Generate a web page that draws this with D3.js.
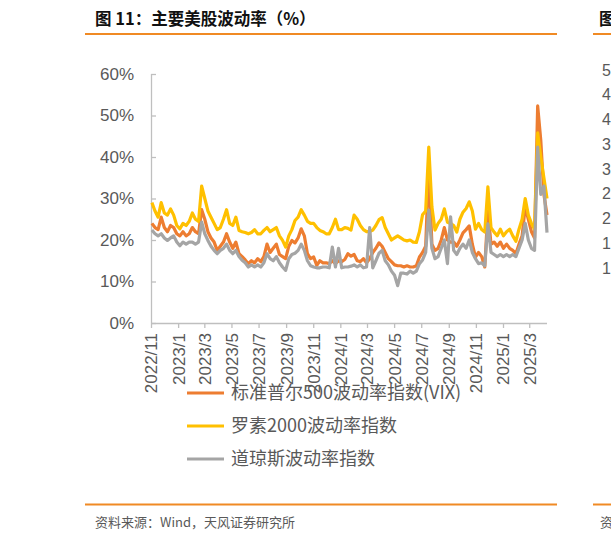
<!DOCTYPE html>
<html><head><meta charset="utf-8">
<script src="https://cdn.jsdelivr.net/npm/d3@7"></script>
<style>
html,body{margin:0;padding:0;background:#fff;}
svg{display:block;}
</style></head>
<body>
<svg id="c" width="611" height="540"></svg>
<script>
// ---- data ----
const title = "图 11：主要美股波动率（%）";
const source = "资料来源：Wind，天风证券研究所";
const seriesNames = ["标准普尔500波动率指数(VIX)", "罗素2000波动率指数", "道琼斯波动率指数"];
const firstWeek = "2022-11-18"; // weekly observations (Fridays)
const axisStart = "2022-11-16", axisEnd = "2025-04-25";
const tickLabels = ["2022/11","2023/1","2023/3","2023/5","2023/7","2023/9","2023/11","2024/1","2024/3","2024/5","2024/7","2024/9","2024/11","2025/1","2025/3"];
const yTicks = [0,10,20,30,40,50,60];

const vix = [24,23,22.5,25.5,23,22,23.5,23,21.5,21,22,21,21.5,23,22,21.5,27.3,25,22,20.5,
19.5,17.5,18.5,19.5,21.5,19.5,18,19.5,16.7,16,15.2,14.3,15,14.5,15.5,14.8,16,19,17,18,
19,16.5,16,15.5,18.5,19.9,19.3,20.5,22.7,21,16.7,15.5,15.9,13.9,15,14.5,14.5,14.3,15,14.3,
15,14.8,15.3,16.7,16.1,16.5,15,14.8,15.5,14.5,15.5,17,18,19.3,18.5,17,15.5,14.8,14,13.8,
13.8,13.5,13.8,13.5,13.5,13.8,15.9,17,18.5,38,19,17.5,18,20,23,20,19.5,19.5,18.5,20,
21.7,22.5,23.4,19,15.9,17,16,13.5,27,19,19.5,18.5,19.5,18,19,18,17.5,16.7,19,21,
28,25,22,20.5,52.3,44,31,26];
const rvx = [29,27,25.5,29,26.5,26,27.5,26,23.5,22.7,24,23.5,24.5,26.5,25,24.5,33,30,27,25.5,
24,22.5,23,25,27.3,24,23.5,25.5,22.3,22,21.8,21.5,21.8,22.5,21.5,21.5,22.3,23,22,22.5,
23,21,19.9,18.3,21,22.5,24.7,25.5,27.3,26,24.5,24,24,23,22.3,22,21.5,21.5,23,25,
22.5,22.5,23,22.8,22.4,26,25,23.5,22.5,22,22,22.4,23.5,24.9,25.4,23,21.5,20,20.5,21,
20.5,20,19.8,20,19.5,19.4,22,26.1,27,42.4,28,22.4,24,25,27.5,24.3,24,23.5,21.9,25,
26.7,27.6,29.2,27,22.6,24,22.5,21.9,32.8,23,21.9,21,22.6,21,22,22.6,21,19.7,22.6,25,
30,26,24,22.6,45.8,40,35,30];
const vxd = [22.4,21.5,21,21.5,20.5,19.9,20.5,21,19.5,18.6,19.5,19,19.5,19.5,19,19.5,24.3,21.5,19.9,18.5,
17.5,16.7,17.5,18,19,17.5,16.7,17.5,16,15.1,14.5,13.5,14,13.5,14,13.5,14.5,16.7,15.5,15,
16,14.5,13.5,12.7,15.5,16.5,16.8,17.5,19,17.5,15,13.8,13.5,13.3,13.3,13.5,13.5,13.3,18.3,13.5,
18,13.3,13.5,13.5,13.7,14,13.5,14,13.3,13.5,23,13.3,15,16.8,17.5,15,14,12.5,11.5,9,
12,12,11.8,12.5,12,12.5,14.3,15.2,17,27.2,18,15.5,16,18,20,14.3,25.6,17.5,16.5,18,
19,18,20,17,15.5,14.3,14.5,13.8,23.9,17,16.5,16,16.5,16,16.5,16,16.5,16,18,20,
24,20,18,17.5,42.4,31,33,21.8];

// neighbouring (clipped) chart at the right edge
const rightTicks = [50,45,40,35,30,25,20,15,10];

// ---- drawing ----
const svg = d3.select("#c");
const parse = d3.timeParse("%Y-%m-%d");
const colors = ["#ED7D31", "#FFC000", "#A5A5A5"];
const textGray = "#595959";
const accent = "#F08A24";

const start = parse(firstWeek);
const dates = vix.map((_, i) => d3.timeDay.offset(start, 7 * i));

const x = d3.scaleTime().domain([parse(axisStart), parse(axisEnd)]).range([151, 547]);
const y = d3.scaleLinear().domain([0, 60]).range([323, 74]);

// header / footer
svg.append("text").attr("x", 95).attr("y", 24.5).attr("font-family", "'Noto Sans CJK SC'")
  .attr("font-weight", "bold").attr("font-size", 16.5).attr("fill", "#111").text(title);
svg.append("line").attr("x1", 85).attr("x2", 557).attr("y1", 34).attr("y2", 34)
  .attr("stroke", accent).attr("stroke-width", 2);
svg.append("line").attr("x1", 85).attr("x2", 557).attr("y1", 504.5).attr("y2", 504.5)
  .attr("stroke", accent).attr("stroke-width", 2);
svg.append("text").attr("x", 95).attr("y", 527).attr("font-family", "'Noto Sans CJK SC'")
  .attr("font-size", 13).attr("fill", textGray).text(source);

// right-edge partial chart
svg.append("line").attr("x1", 593).attr("x2", 611).attr("y1", 34).attr("y2", 34)
  .attr("stroke", accent).attr("stroke-width", 2);
svg.append("line").attr("x1", 593).attr("x2", 611).attr("y1", 504.5).attr("y2", 504.5)
  .attr("stroke", accent).attr("stroke-width", 2);
svg.append("text").attr("x", 599).attr("y", 24.5).attr("font-family", "'Noto Sans CJK SC'")
  .attr("font-weight", "bold").attr("font-size", 16.5).attr("fill", "#111").text("图");
svg.append("text").attr("x", 600).attr("y", 527).attr("font-family", "'Noto Sans CJK SC'")
  .attr("font-size", 13).attr("fill", textGray).text("资");
const yr = d3.scaleLinear().domain([50, 10]).range([70, 268]);
svg.append("g").selectAll("text").data(rightTicks).join("text")
  .attr("x", 602).attr("y", d => yr(d)).attr("dy", "0.35em")
  .attr("font-family", "'Liberation Sans', Arial").attr("font-size", 16).attr("fill", textGray)
  .text(d => d);

// y axis
const yAxis = svg.append("g").attr("transform", "translate(151,0)")
  .call(d3.axisRight(y).tickValues(yTicks).tickSize(5).tickFormat(d => d + "%"));
yAxis.select(".domain").attr("stroke", "#BFBFBF").attr("stroke-width", 1.3).attr("d", "M0.5,74V323");
yAxis.selectAll(".tick line").attr("stroke", "#BFBFBF").attr("stroke-width", 1.3);
yAxis.selectAll(".tick text").attr("x", -17).attr("text-anchor", "end")
  .attr("font-family", "'Liberation Sans', Arial").attr("font-size", 17).attr("fill", textGray);

// x axis
const tickDates = tickLabels.map(s => { const [yy, mm] = s.split("/").map(Number); return new Date(yy, mm - 1, 16); });
const xAxis = svg.append("g").attr("transform", "translate(0,323)")
  .call(d3.axisBottom(x).tickValues(tickDates).tickSize(5).tickFormat((d, i) => tickLabels[i]));
xAxis.select(".domain").attr("stroke", "#BFBFBF").attr("stroke-width", 1.3).attr("d", "M151,0.5H547");
xAxis.selectAll(".tick line").attr("stroke", "#BFBFBF").attr("stroke-width", 1.3);
xAxis.selectAll(".tick text")
  .attr("transform", "rotate(-90)").attr("x", -10).attr("y", 0).attr("dy", "0.35em")
  .attr("text-anchor", "end")
  .attr("font-family", "'Liberation Sans', Arial").attr("font-size", 17).attr("fill", textGray);

// lines
const line = d3.line().x((d, i) => x(dates[i])).y(d => y(d)).curve(d3.curveLinear);
[vix, rvx, vxd].forEach((s, k) => {
  svg.append("path").datum(s).attr("d", line).attr("fill", "none")
    .attr("stroke", colors[k]).attr("stroke-width", 3.2).attr("stroke-linejoin", "round");
});

// legend
const lg = svg.append("g");
const legendY = [393, 426, 459];
seriesNames.forEach((n, i) => {
  lg.append("line").attr("x1", 187).attr("x2", 224).attr("y1", legendY[i]).attr("y2", legendY[i])
    .attr("stroke", colors[i]).attr("stroke-width", 3);
  lg.append("text").attr("x", 231).attr("y", legendY[i]).attr("dy", "0.36em")
    .attr("font-family", "'Noto Sans CJK SC'").attr("font-size", 18).attr("fill", textGray).text(n);
});
</script>
</body></html>
